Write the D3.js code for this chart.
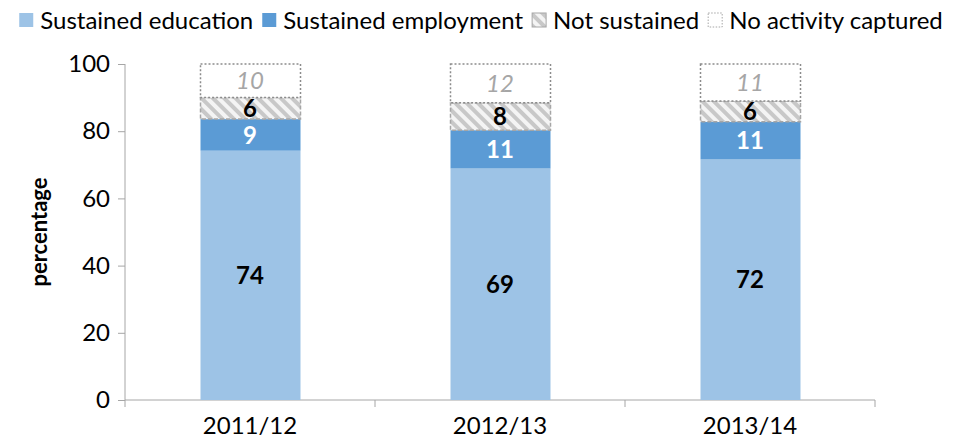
<!DOCTYPE html>
<html>
<head>
<meta charset="utf-8">
<script src="https://cdn.jsdelivr.net/npm/d3@7"></script>
<style>
  body { margin: 0; background: #fff; }
  text { font-family: Lato, "Open Sans", sans-serif; }
  .axis path, .axis line { stroke: #a6a6a6; }
  .axis text { font-size: 24px; fill: #000; }
</style>
</head>
<body>
<div id="chart"></div>
<script>
// Dados
var years = ["2011/12", "2012/13", "2013/14"];
var education = [74.2, 68.9, 71.6];
var employment = [9.4, 11.4, 11.2];
var notSustained = [6.4, 8.2, 6.2];
var noActivity = [10.0, 11.5, 11.0];
var seriesNames = ["Sustained education", "Sustained employment", "Not sustained", "No activity captured"];
var yTicks = [0, 20, 40, 60, 80, 100];

var width = 962, height = 443;
var margin = {top: 64, right: 87, bottom: 43, left: 125};
var innerW = width - margin.left - margin.right;
var innerH = height - margin.top - margin.bottom;

var svg = d3.select("#chart").append("svg")
    .attr("width", width)
    .attr("height", height);

// hachurado para "Not sustained"
var defs = svg.append("defs");
var pat = defs.append("pattern")
    .attr("id", "hatch")
    .attr("patternUnits", "userSpaceOnUse")
    .attr("width", 8).attr("height", 8)
    .attr("patternTransform", "rotate(45)");
pat.append("rect").attr("width", 8).attr("height", 8).attr("fill", "#f4f4f4");
pat.append("rect").attr("width", 8).attr("height", 4).attr("fill", "#c8c8c8");

var g = svg.append("g")
    .attr("transform", "translate(" + margin.left + "," + margin.top + ")");

var x = d3.scaleBand()
    .domain(years)
    .range([0, innerW])
    .paddingInner(0.6)
    .paddingOuter(0.3);

var y = d3.scaleLinear()
    .domain([0, 100])
    .range([innerH, 0]);

// monta a tabela empilhada
var table = years.map(function(yr, i) {
  return {year: yr, edu: education[i], emp: employment[i], ns: notSustained[i], na: noActivity[i]};
});
var keys = ["edu", "emp", "ns", "na"];
var stack = d3.stack().keys(keys)(table);

var styles = {
  edu: {fill: "#9dc3e6", stroke: "none", dash: null, label: {fill: "#000", weight: "bold", style: "normal"}},
  emp: {fill: "#5b9bd5", stroke: "none", dash: null, label: {fill: "#fff", weight: "bold", style: "normal"}},
  ns:  {fill: "url(#hatch)", stroke: "#a6a6a6", dash: "4,2", label: {fill: "#000", weight: "bold", style: "normal"}},
  na:  {fill: "#fff", stroke: "#8c8c8c", dash: "2,2", label: {fill: "#a6a6a6", weight: "normal", style: "italic"}}
};

// eixo y
var yAxis = d3.axisLeft(y).tickValues(yTicks).tickSize(7).tickPadding(8);
g.append("g").attr("class", "axis y").call(yAxis)
  .call(function(s) { s.select(".domain").attr("d", "M0," + y(100) + "V" + y(0)); });

// eixo x (rótulos no centro, marcas nas divisões)
var xAxis = d3.axisBottom(x).tickSize(0).tickPadding(17);
var xg = g.append("g").attr("class", "axis x")
    .attr("transform", "translate(0," + innerH + ")")
    .call(xAxis);
xg.select(".domain").attr("d", "M0,0H" + innerW);
var bounds = d3.range(years.length + 1).map(function(i) { return i * innerW / years.length; });
xg.selectAll(".bound").data(bounds).enter().append("line")
    .attr("class", "bound")
    .attr("x1", function(d) { return d; }).attr("x2", function(d) { return d; })
    .attr("y1", 0).attr("y2", 7)
    .attr("stroke", "#a6a6a6");

// barras
var layers = g.selectAll(".layer").data(stack).enter().append("g").attr("class", "layer");
layers.selectAll("rect").data(function(d) { return d.map(function(p) { p.key = d.key; return p; }); })
  .enter().append("rect")
    .attr("x", function(d) { return x(d.data.year) + 0.5; })
    .attr("y", function(d) { return y(d[1]); })
    .attr("width", x.bandwidth())
    .attr("height", function(d) { return y(d[0]) - y(d[1]); })
    .attr("fill", function(d) { return styles[d.key].fill; })
    .attr("stroke", function(d) { return styles[d.key].stroke; })
    .attr("stroke-width", 1.5)
    .attr("stroke-dasharray", function(d) { return styles[d.key].dash; });

// rótulos de dados
layers.selectAll("text").data(function(d) { return d; })
  .enter().append("text")
    .attr("x", function(d) { return x(d.data.year) + x.bandwidth() / 2; })
    .attr("y", function(d) { return y((d[0] + d[1]) / 2); })
    .attr("dy", "0.36em")
    .attr("text-anchor", "middle")
    .style("font-size", "24px")
    .style("fill", function(d) { return styles[d.key].label.fill; })
    .style("font-weight", function(d) { return styles[d.key].label.weight; })
    .style("font-style", function(d) { return styles[d.key].label.style; })
    .text(function(d) { return Math.round(d[1] - d[0]); });

// título do eixo y
svg.append("text")
    .attr("transform", "translate(47," + (margin.top + innerH / 2) + ") rotate(-90)")
    .attr("text-anchor", "middle")
    .style("font-size", "22px")
    .style("font-weight", "bold")
    .text("percentage");

// legenda
var legend = svg.append("g").attr("class", "legend");
var lx = 0;
seriesNames.forEach(function(name, i) {
  var k = keys[i];
  var item = legend.append("g").attr("transform", "translate(" + lx + ",0)");
  item.append("rect")
      .attr("x", 0).attr("y", 13).attr("width", 14).attr("height", 14)
      .attr("fill", styles[k].fill)
      .attr("stroke", styles[k].stroke === "none" ? null : "#a6a6a6")
      .attr("stroke-dasharray", k === "na" ? "1.5,1.5" : null);
  var t = item.append("text")
      .attr("x", 21).attr("y", 29)
      .style("font-size", "24px")
      .text(name);
  lx += 21 + t.node().getComputedTextLength() + 9;
});
var lw = lx - 9;
legend.attr("transform", "translate(" + ((width - lw) / 2) + ",0)");
</script>
</body>
</html>
